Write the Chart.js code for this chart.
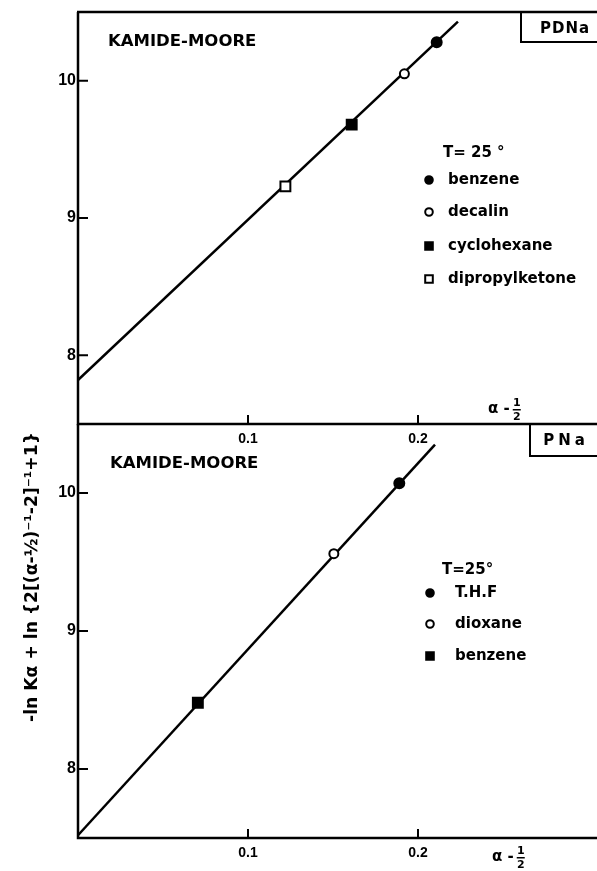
<!DOCTYPE html>
<html><head><meta charset="utf-8">
<script src="https://cdn.jsdelivr.net/npm/chart.js@4/dist/chart.umd.min.js"></script>
<style>
html,body{margin:0;padding:0;background:#fff;width:597px;height:871px;overflow:hidden}
canvas{position:absolute;left:0;top:0}
</style></head><body>
<canvas id="cTop" width="597" height="871"></canvas>
<canvas id="cBot" width="597" height="871"></canvas>
<script>
// ---------- data ----------
const topSolvents = ['benzene', 'decalin', 'cyclohexane', 'dipropylketone'];
const topX = [0.211, 0.192, 0.161, 0.122];
const topY = [10.28, 10.05, 9.68, 9.23];
const topFitX = [0, 0.2235];
const topFitY = [7.82, 10.43];

const botSolvents = ['T.H.F', 'dioxane', 'benzene'];
const botX = [0.189, 0.1505, 0.0705];
const botY = [10.07, 9.56, 8.48];
const botFitX = [0, 0.21];
const botFitY = [7.52, 10.35];

const xTickValues = [0.1, 0.2];
const yTickValues = [8, 9, 10];
const xRange = [0, 0.3];
const yRange = [7.5, 10.5];

const topLabel = 'PDNa';
const botLabel = 'PNa';
const methodLabel = 'KAMIDE-MOORE';
const tempLabelTop = 'T= 25 °';
const tempLabelBot = 'T=25°';
const yTitle = '-ln Kα + ln {2[(α-½)⁻¹-2]⁻¹+1}';

// ---------- styles ----------
const topStyles = [
  {pointStyle: 'circle', radius: 5, fill: '#000'},
  {pointStyle: 'circle', radius: 4.5, fill: '#fff'},
  {pointStyle: 'rect', radius: 7, fill: '#000'},
  {pointStyle: 'rect', radius: 7, fill: '#fff'}
];
const botStyles = [
  {pointStyle: 'circle', radius: 5, fill: '#000'},
  {pointStyle: 'circle', radius: 4.5, fill: '#fff'},
  {pointStyle: 'rect', radius: 7, fill: '#000'}
];
const BOLD = 'bold 15px "DejaVu Sans"';
const NUMFONT = {family: '"Liberation Sans"', size: 16, weight: 'bold'};

function pts(xs, ys) { return xs.map((x, i) => ({x: x, y: ys[i]})); }

function buildDatasets(fx, fy, xs, ys, names, styles) {
  const ds = [{
    label: 'fit', data: pts(fx, fy), showLine: true, borderColor: '#000',
    borderWidth: 2.5, pointRadius: 0, fill: false, order: 2
  }];
  names.forEach((n, i) => {
    ds.push({
      label: n, data: [{x: xs[i], y: ys[i]}], showLine: false,
      pointStyle: styles[i].pointStyle, pointRadius: styles[i].radius,
      pointBackgroundColor: styles[i].fill, pointBorderColor: '#000',
      pointBorderWidth: 2, order: 1
    });
  });
  return ds;
}

function drawMarker(ctx, style, x, y, r) {
  ctx.save();
  ctx.fillStyle = style.fill; ctx.strokeStyle = '#000'; ctx.lineWidth = 2;
  ctx.beginPath();
  if (style.pointStyle === 'circle') ctx.arc(x, y, r, 0, Math.PI * 2);
  else ctx.rect(x - r, y - r, 2 * r, 2 * r);
  ctx.fill(); ctx.stroke();
  ctx.restore();
}

function drawAlphaHalf(ctx, x, y) {
  ctx.save();
  ctx.fillStyle = '#000';
  ctx.font = BOLD; ctx.textBaseline = 'middle'; ctx.textAlign = 'left';
  ctx.fillText('α -', x, y);
  const w = ctx.measureText('α -').width;
  ctx.font = 'bold 11px "DejaVu Sans"'; ctx.textAlign = 'center';
  ctx.fillText('1', x + w + 7, y - 6);
  ctx.fillText('2', x + w + 7, y + 8);
  ctx.fillRect(x + w + 3, y, 8, 1.5);
  ctx.restore();
}

function makePlugin(opts) {
  return {
    id: 'panelDecor',
    afterDatasetsDraw(chart) {
      const ctx = chart.ctx, a = chart.chartArea;
      const xs = chart.scales.x, ys = chart.scales.y;
      const W = chart.width + 5;
      ctx.save();
      ctx.strokeStyle = '#000'; ctx.fillStyle = '#000'; ctx.lineWidth = 2.5;
      // axes
      ctx.beginPath();
      ctx.moveTo(a.left, a.top); ctx.lineTo(a.left, a.bottom); ctx.lineTo(W, a.bottom);
      if (opts.topLine) { ctx.moveTo(a.left - 1, a.top); ctx.lineTo(W, a.top); }
      ctx.stroke();
      // inner ticks
      ctx.lineWidth = 2;
      ctx.beginPath();
      yTickValues.forEach(v => { const p = ys.getPixelForValue(v); ctx.moveTo(a.left, p); ctx.lineTo(a.left + 10, p); });
      xTickValues.forEach(v => { const p = xs.getPixelForValue(v); ctx.moveTo(p, a.bottom); ctx.lineTo(p, a.bottom - 9); });
      ctx.stroke();
      // sample box
      ctx.lineWidth = 2;
      ctx.strokeRect(opts.box[0], opts.box[1], 120, opts.box[2]);
      ctx.font = 'bold 15px "DejaVu Sans"'; ctx.textBaseline = 'middle'; ctx.textAlign = 'center';
      if (ctx.letterSpacing !== undefined) ctx.letterSpacing = opts.boxSpacing;
      ctx.fillText(opts.boxText, opts.boxTextPos[0], opts.boxTextPos[1]);
      if (ctx.letterSpacing !== undefined) ctx.letterSpacing = '0px';
      // method label
      ctx.textAlign = 'left';
      ctx.font = 'bold 16.5px "DejaVu Sans"';
      ctx.fillText(methodLabel, opts.method[0], opts.method[1]);
      // temperature + legend
      ctx.font = BOLD;
      ctx.fillText(opts.temp, opts.tempPos[0], opts.tempPos[1]);
      opts.names.forEach((n, i) => {
        drawMarker(ctx, opts.styles[i], opts.legX, opts.legY[i], 3.8);
        ctx.fillText(n, opts.legTextX, opts.legY[i]);
      });
      drawAlphaHalf(ctx, opts.alpha[0], opts.alpha[1]);
      if (opts.yTitle) {
        ctx.save();
        ctx.translate(33, 577); ctx.rotate(-Math.PI / 2);
        ctx.font = 'bold 14px "DejaVu Sans"';
        let w = ctx.measureText(yTitle).width;
        const fs = 14 * 290 / w;
        ctx.font = 'bold ' + fs.toFixed(2) + 'px "DejaVu Sans"';
        ctx.textAlign = 'center'; ctx.textBaseline = 'middle';
        ctx.fillText(yTitle, 0, 0);
        ctx.restore();
      }
      ctx.restore();
    }
  };
}

function scalesCfg(xHeight) {
  return {
    x: {
      type: 'linear', min: xRange[0], max: xRange[1],
      grid: {display: false, drawTicks: false, tickLength: 0}, border: {display: false},
      afterBuildTicks: s => { s.ticks = xTickValues.map(v => ({value: v})); },
      afterFit: s => { s.height = xHeight; },
      ticks: {color: '#000', font: {family: '"Liberation Sans"', size: 14, weight: 'bold'}, padding: 7,
              maxRotation: 0, autoSkip: false, callback: v => v.toFixed(1)}
    },
    y: {
      type: 'linear', min: yRange[0], max: yRange[1],
      grid: {display: false, drawTicks: false, tickLength: 0}, border: {display: false},
      afterBuildTicks: s => { s.ticks = yTickValues.map(v => ({value: v})); },
      afterFit: s => { s.width = 78; },
      ticks: {color: '#000', font: NUMFONT, padding: 2, callback: v => String(v)}
    }
  };
}

const common = {
  responsive: false, animation: false, devicePixelRatio: 1,
  plugins: {legend: {display: false}, tooltip: {enabled: false}}
};

new Chart(document.getElementById('cTop'), {
  type: 'scatter',
  data: {datasets: buildDatasets(topFitX, topFitY, topX, topY, topSolvents, topStyles)},
  options: Object.assign({}, common, {
    layout: {padding: {top: 12, left: 0, right: 0, bottom: 871 - 424 - 28}},
    scales: scalesCfg(28)
  }),
  plugins: [makePlugin({
    topLine: true, box: [521, 12, 30], boxText: topLabel, boxTextPos: [565, 29], boxSpacing: '1px',
    method: [108, 42], temp: tempLabelTop, tempPos: [443, 153],
    names: topSolvents, styles: topStyles, legX: 429, legTextX: 448, legY: [180, 212, 246, 279],
    alpha: [488, 409], yTitle: false
  })]
});

new Chart(document.getElementById('cBot'), {
  type: 'scatter',
  data: {datasets: buildDatasets(botFitX, botFitY, botX, botY, botSolvents, botStyles)},
  options: Object.assign({}, common, {
    layout: {padding: {top: 424, left: 0, right: 0, bottom: 0}},
    scales: scalesCfg(33)
  }),
  plugins: [makePlugin({
    topLine: false, box: [530, 424, 32], boxText: botLabel, boxTextPos: [566, 441], boxSpacing: '4px',
    method: [110, 464], temp: tempLabelBot, tempPos: [442, 570],
    names: botSolvents, styles: botStyles, legX: 430, legTextX: 455, legY: [593, 624, 656],
    alpha: [492, 857], yTitle: true
  })]
});
</script>
</body></html>
